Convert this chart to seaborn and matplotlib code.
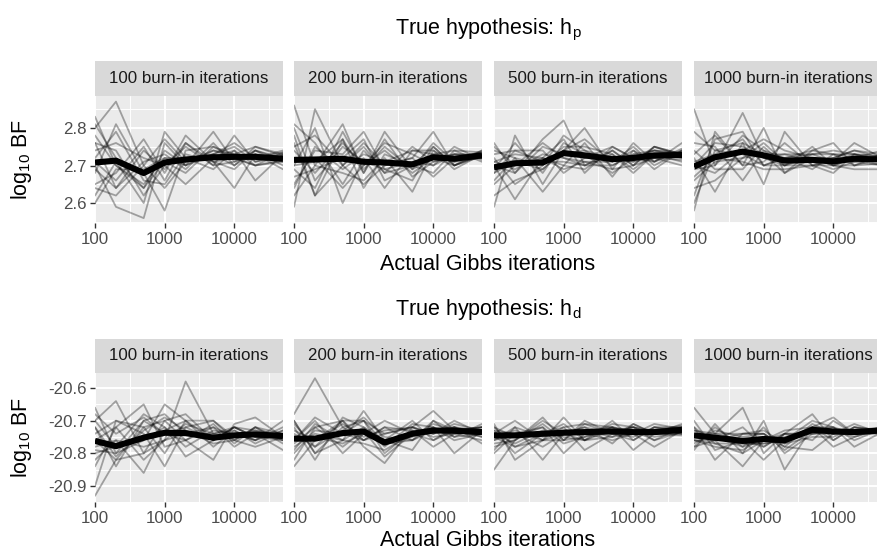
import matplotlib
matplotlib.use("Agg")
import matplotlib.pyplot as plt
import numpy as np
import pandas as pd
import seaborn as sns
from matplotlib.ticker import FixedLocator, NullFormatter

# ---------------------------------------------------------------- data
iterations = [100, 200, 500, 1000, 2000, 5000, 10000, 20000, 50000]
burnin = [100, 200, 500, 1000]

# replicate runs, true hypothesis h_p (one list per run, values at each iteration count)
hp_b100 = [
    [2.830, 2.700, 2.650, 2.720, 2.700, 2.740, 2.720, 2.730, 2.720],
    [2.800, 2.870, 2.700, 2.640, 2.710, 2.730, 2.700, 2.750, 2.730],
    [2.760, 2.640, 2.740, 2.690, 2.760, 2.700, 2.780, 2.710, 2.725],
    [2.620, 2.710, 2.600, 2.790, 2.720, 2.690, 2.740, 2.700, 2.715],
    [2.680, 2.810, 2.680, 2.580, 2.740, 2.750, 2.730, 2.720, 2.735],
    [2.700, 2.590, 2.560, 2.760, 2.700, 2.790, 2.710, 2.740, 2.700],
    [2.740, 2.760, 2.720, 2.700, 2.650, 2.720, 2.740, 2.660, 2.730],
    [2.650, 2.680, 2.770, 2.680, 2.780, 2.710, 2.640, 2.730, 2.710],
    [2.810, 2.720, 2.640, 2.740, 2.700, 2.730, 2.760, 2.720, 2.740],
    [2.690, 2.640, 2.710, 2.730, 2.690, 2.760, 2.700, 2.740, 2.720],
    [2.720, 2.790, 2.660, 2.650, 2.730, 2.710, 2.720, 2.700, 2.710],
    [2.640, 2.620, 2.700, 2.770, 2.710, 2.740, 2.730, 2.750, 2.725],
    [2.760, 2.740, 2.620, 2.700, 2.750, 2.700, 2.710, 2.730, 2.690],
    [2.600, 2.690, 2.690, 2.720, 2.720, 2.730, 2.750, 2.710, 2.730],
    [2.710, 2.660, 2.750, 2.660, 2.760, 2.710, 2.690, 2.740, 2.715],
    [2.780, 2.700, 2.640, 2.710, 2.680, 2.750, 2.720, 2.700, 2.735],
]
hp_b200 = [
    [2.860, 2.700, 2.810, 2.680, 2.790, 2.690, 2.720, 2.730, 2.730],
    [2.590, 2.850, 2.700, 2.760, 2.700, 2.720, 2.790, 2.700, 2.725],
    [2.780, 2.620, 2.770, 2.640, 2.730, 2.700, 2.680, 2.740, 2.735],
    [2.700, 2.800, 2.600, 2.720, 2.640, 2.740, 2.730, 2.720, 2.720],
    [2.650, 2.740, 2.730, 2.790, 2.690, 2.660, 2.750, 2.700, 2.740],
    [2.740, 2.680, 2.760, 2.700, 2.760, 2.730, 2.700, 2.750, 2.715],
    [2.620, 2.700, 2.680, 2.660, 2.720, 2.630, 2.740, 2.690, 2.730],
    [2.810, 2.760, 2.650, 2.740, 2.680, 2.750, 2.710, 2.730, 2.725],
    [2.690, 2.640, 2.790, 2.690, 2.750, 2.690, 2.760, 2.710, 2.720],
    [2.750, 2.780, 2.700, 2.650, 2.700, 2.720, 2.670, 2.720, 2.735],
    [2.670, 2.690, 2.720, 2.770, 2.660, 2.700, 2.730, 2.740, 2.710],
    [2.720, 2.720, 2.640, 2.700, 2.740, 2.680, 2.720, 2.700, 2.730],
    [2.800, 2.660, 2.750, 2.710, 2.690, 2.710, 2.700, 2.730, 2.720],
    [2.640, 2.750, 2.690, 2.730, 2.710, 2.740, 2.740, 2.710, 2.740],
    [2.700, 2.710, 2.770, 2.680, 2.770, 2.670, 2.710, 2.720, 2.725],
    [2.760, 2.620, 2.700, 2.750, 2.680, 2.700, 2.750, 2.700, 2.730],
]
hp_b500 = [
    [2.760, 2.680, 2.770, 2.820, 2.700, 2.740, 2.700, 2.750, 2.730],
    [2.590, 2.780, 2.650, 2.740, 2.800, 2.690, 2.760, 2.710, 2.760],
    [2.700, 2.610, 2.720, 2.770, 2.680, 2.750, 2.720, 2.740, 2.720],
    [2.740, 2.720, 2.630, 2.700, 2.760, 2.670, 2.740, 2.690, 2.740],
    [2.650, 2.700, 2.760, 2.720, 2.700, 2.730, 2.680, 2.730, 2.710],
    [2.720, 2.650, 2.700, 2.780, 2.740, 2.700, 2.730, 2.720, 2.735],
    [2.680, 2.740, 2.740, 2.680, 2.720, 2.720, 2.710, 2.750, 2.725],
    [2.620, 2.660, 2.690, 2.740, 2.770, 2.710, 2.750, 2.700, 2.740],
    [2.750, 2.700, 2.720, 2.700, 2.690, 2.740, 2.700, 2.720, 2.700],
    [2.690, 2.760, 2.680, 2.760, 2.730, 2.680, 2.720, 2.740, 2.730],
    [2.710, 2.690, 2.730, 2.720, 2.710, 2.710, 2.740, 2.710, 2.745],
    [2.660, 2.720, 2.700, 2.750, 2.750, 2.730, 2.690, 2.730, 2.720],
    [2.730, 2.740, 2.710, 2.710, 2.700, 2.700, 2.730, 2.740, 2.735],
    [2.700, 2.680, 2.750, 2.730, 2.740, 2.720, 2.710, 2.720, 2.715],
    [2.680, 2.710, 2.690, 2.740, 2.720, 2.750, 2.720, 2.710, 2.740],
    [2.710, 2.730, 2.720, 2.690, 2.710, 2.690, 2.700, 2.750, 2.730],
]
hp_b1000 = [
    [2.850, 2.700, 2.840, 2.720, 2.700, 2.730, 2.710, 2.760, 2.720],
    [2.580, 2.790, 2.700, 2.800, 2.680, 2.740, 2.760, 2.700, 2.730],
    [2.720, 2.630, 2.760, 2.650, 2.790, 2.700, 2.680, 2.730, 2.710],
    [2.760, 2.750, 2.660, 2.740, 2.720, 2.690, 2.730, 2.720, 2.740],
    [2.620, 2.770, 2.790, 2.700, 2.700, 2.750, 2.700, 2.700, 2.705],
    [2.700, 2.680, 2.740, 2.770, 2.740, 2.720, 2.720, 2.740, 2.720],
    [2.670, 2.720, 2.710, 2.690, 2.690, 2.700, 2.700, 2.690, 2.690],
    [2.790, 2.740, 2.760, 2.730, 2.730, 2.730, 2.740, 2.730, 2.725],
    [2.640, 2.660, 2.720, 2.760, 2.710, 2.710, 2.690, 2.710, 2.700],
    [2.730, 2.780, 2.700, 2.710, 2.760, 2.700, 2.720, 2.740, 2.730],
    [2.690, 2.700, 2.780, 2.740, 2.700, 2.720, 2.700, 2.720, 2.715],
    [2.600, 2.740, 2.730, 2.700, 2.720, 2.740, 2.730, 2.700, 2.720],
    [2.740, 2.690, 2.690, 2.750, 2.700, 2.700, 2.710, 2.730, 2.710],
    [2.700, 2.760, 2.750, 2.720, 2.730, 2.710, 2.720, 2.710, 2.730],
    [2.660, 2.710, 2.720, 2.730, 2.680, 2.720, 2.700, 2.720, 2.700],
    [2.710, 2.730, 2.770, 2.700, 2.720, 2.730, 2.730, 2.730, 2.720],
]

# replicate runs, true hypothesis h_d
hd_b100 = [
    [-20.930, -20.820, -20.720, -20.700, -20.680, -20.760, -20.720, -20.750, -20.740],
    [-20.660, -20.800, -20.760, -20.650, -20.700, -20.700, -20.760, -20.720, -20.760],
    [-20.700, -20.640, -20.800, -20.760, -20.580, -20.740, -20.730, -20.770, -20.730],
    [-20.840, -20.720, -20.650, -20.780, -20.760, -20.820, -20.710, -20.690, -20.750],
    [-20.720, -20.840, -20.700, -20.680, -20.740, -20.720, -20.780, -20.740, -20.790],
    [-20.780, -20.760, -20.860, -20.730, -20.700, -20.760, -20.740, -20.760, -20.720],
    [-20.900, -20.700, -20.740, -20.840, -20.720, -20.700, -20.750, -20.730, -20.740],
    [-20.700, -20.780, -20.680, -20.720, -20.810, -20.760, -20.720, -20.750, -20.760],
    [-20.760, -20.820, -20.800, -20.700, -20.760, -20.710, -20.770, -20.720, -20.740],
    [-20.740, -20.700, -20.720, -20.800, -20.700, -20.780, -20.730, -20.760, -20.700],
    [-20.820, -20.760, -20.780, -20.760, -20.740, -20.740, -20.760, -20.780, -20.750],
    [-20.680, -20.740, -20.690, -20.740, -20.720, -20.760, -20.720, -20.730, -20.760],
    [-20.800, -20.780, -20.760, -20.720, -20.780, -20.730, -20.740, -20.760, -20.730],
    [-20.720, -20.810, -20.730, -20.690, -20.730, -20.770, -20.760, -20.720, -20.770],
    [-20.760, -20.720, -20.820, -20.760, -20.710, -20.740, -20.720, -20.750, -20.740],
    [-20.790, -20.800, -20.700, -20.740, -20.760, -20.720, -20.750, -20.740, -20.750],
]
hd_b200 = [
    [-20.680, -20.570, -20.720, -20.700, -20.740, -20.720, -20.670, -20.730, -20.720],
    [-20.840, -20.760, -20.700, -20.780, -20.830, -20.720, -20.740, -20.700, -20.740],
    [-20.700, -20.800, -20.760, -20.670, -20.760, -20.790, -20.700, -20.750, -20.710],
    [-20.760, -20.700, -20.800, -20.740, -20.700, -20.740, -20.760, -20.720, -20.770],
    [-20.720, -20.820, -20.690, -20.720, -20.780, -20.710, -20.720, -20.800, -20.730],
    [-20.800, -20.730, -20.740, -20.760, -20.720, -20.760, -20.730, -20.720, -20.740],
    [-20.740, -20.780, -20.700, -20.700, -20.800, -20.730, -20.780, -20.740, -20.720],
    [-20.780, -20.740, -20.760, -20.720, -20.760, -20.750, -20.710, -20.730, -20.750],
    [-20.700, -20.800, -20.720, -20.760, -20.740, -20.720, -20.740, -20.710, -20.730],
    [-20.820, -20.720, -20.780, -20.730, -20.810, -20.740, -20.720, -20.750, -20.740],
    [-20.760, -20.690, -20.740, -20.700, -20.770, -20.760, -20.700, -20.730, -20.720],
    [-20.730, -20.760, -20.710, -20.750, -20.730, -20.720, -20.750, -20.740, -20.760],
    [-20.790, -20.710, -20.760, -20.770, -20.790, -20.740, -20.730, -20.720, -20.730],
    [-20.710, -20.780, -20.730, -20.690, -20.750, -20.760, -20.720, -20.760, -20.740],
    [-20.750, -20.750, -20.770, -20.740, -20.760, -20.700, -20.760, -20.730, -20.720],
    [-20.770, -20.720, -20.700, -20.760, -20.720, -20.730, -20.740, -20.720, -20.750],
]
hd_b500 = [
    [-20.850, -20.760, -20.690, -20.760, -20.700, -20.740, -20.720, -20.760, -20.720],
    [-20.710, -20.820, -20.760, -20.690, -20.760, -20.700, -20.760, -20.720, -20.740],
    [-20.760, -20.720, -20.820, -20.740, -20.720, -20.770, -20.710, -20.740, -20.710],
    [-20.800, -20.740, -20.720, -20.800, -20.740, -20.720, -20.740, -20.780, -20.730],
    [-20.720, -20.780, -20.740, -20.720, -20.790, -20.740, -20.720, -20.730, -20.720],
    [-20.740, -20.700, -20.760, -20.760, -20.710, -20.720, -20.790, -20.740, -20.740],
    [-20.780, -20.760, -20.700, -20.740, -20.740, -20.760, -20.740, -20.710, -20.725],
    [-20.730, -20.800, -20.740, -20.710, -20.760, -20.730, -20.730, -20.750, -20.735],
    [-20.760, -20.740, -20.780, -20.740, -20.720, -20.740, -20.760, -20.720, -20.720],
    [-20.720, -20.750, -20.720, -20.770, -20.750, -20.710, -20.720, -20.740, -20.745],
    [-20.790, -20.720, -20.750, -20.730, -20.730, -20.750, -20.740, -20.730, -20.715],
    [-20.740, -20.770, -20.730, -20.750, -20.760, -20.720, -20.730, -20.760, -20.735],
    [-20.750, -20.730, -20.760, -20.720, -20.710, -20.740, -20.750, -20.720, -20.730],
    [-20.770, -20.760, -20.710, -20.760, -20.750, -20.730, -20.720, -20.740, -20.725],
    [-20.730, -20.740, -20.740, -20.730, -20.730, -20.720, -20.740, -20.730, -20.740],
    [-20.750, -20.780, -20.760, -20.740, -20.760, -20.750, -20.710, -20.740, -20.730],
]
hd_b1000 = [
    [-20.660, -20.740, -20.660, -20.800, -20.740, -20.680, -20.760, -20.720, -20.730],
    [-20.790, -20.710, -20.800, -20.700, -20.850, -20.720, -20.690, -20.740, -20.720],
    [-20.720, -20.820, -20.740, -20.740, -20.780, -20.790, -20.740, -20.710, -20.740],
    [-20.760, -20.760, -20.840, -20.760, -20.730, -20.720, -20.780, -20.750, -20.725],
    [-20.700, -20.790, -20.760, -20.820, -20.760, -20.700, -20.720, -20.780, -20.735],
    [-20.780, -20.720, -20.780, -20.720, -20.800, -20.740, -20.730, -20.730, -20.720],
    [-20.740, -20.760, -20.720, -20.780, -20.740, -20.760, -20.700, -20.740, -20.740],
    [-20.760, -20.780, -20.790, -20.750, -20.770, -20.720, -20.760, -20.720, -20.730],
    [-20.730, -20.740, -20.760, -20.780, -20.740, -20.740, -20.730, -20.750, -20.720],
    [-20.770, -20.730, -20.750, -20.740, -20.780, -20.710, -20.740, -20.730, -20.735],
    [-20.720, -20.770, -20.800, -20.760, -20.750, -20.730, -20.720, -20.740, -20.730],
    [-20.750, -20.740, -20.740, -20.730, -20.770, -20.750, -20.750, -20.720, -20.740],
    [-20.760, -20.770, -20.770, -20.770, -20.760, -20.720, -20.720, -20.760, -20.725],
    [-20.730, -20.750, -20.780, -20.760, -20.740, -20.740, -20.740, -20.730, -20.735],
    [-20.780, -20.760, -20.740, -20.740, -20.790, -20.730, -20.730, -20.740, -20.720],
    [-20.740, -20.750, -20.770, -20.770, -20.760, -20.720, -20.740, -20.730, -20.730],
]

# average over runs at each iteration count
hp_avg = {
    100: [2.708, 2.713, 2.680, 2.708, 2.716, 2.722, 2.723, 2.723, 2.718],
    200: [2.715, 2.716, 2.718, 2.710, 2.708, 2.703, 2.722, 2.718, 2.727],
    500: [2.695, 2.706, 2.708, 2.733, 2.727, 2.717, 2.720, 2.727, 2.728],
    1000: [2.697, 2.722, 2.737, 2.727, 2.713, 2.715, 2.711, 2.718, 2.716],
}
hd_avg = {
    100: [-20.762, -20.778, -20.752, -20.737, -20.738, -20.752, -20.745, -20.742, -20.747],
    200: [-20.755, -20.755, -20.738, -20.733, -20.767, -20.740, -20.730, -20.731, -20.735],
    500: [-20.745, -20.745, -20.740, -20.737, -20.735, -20.733, -20.735, -20.735, -20.728],
    1000: [-20.745, -20.752, -20.762, -20.756, -20.760, -20.728, -20.733, -20.735, -20.730],
}

runs = {
    "hp": {100: hp_b100, 200: hp_b200, 500: hp_b500, 1000: hp_b1000},
    "hd": {100: hd_b100, 200: hd_b200, 500: hd_b500, 1000: hd_b1000},
}
avgs = {"hp": hp_avg, "hd": hd_avg}

rows = []
for hyp, by_burn in runs.items():
    for b, reps in by_burn.items():
        for r, vals in enumerate(reps):
            for it, v in zip(iterations, vals):
                rows.append((hyp, b, r, it, v))
runs_df = pd.DataFrame(rows, columns=["hyp", "burnin", "run", "iterations", "log10BF"])

rows = []
for hyp, by_burn in avgs.items():
    for b, vals in by_burn.items():
        for it, v in zip(iterations, vals):
            rows.append((hyp, b, it, v))
avg_df = pd.DataFrame(rows, columns=["hyp", "burnin", "iterations", "log10BF"])

# ---------------------------------------------------------------- style
sns.set_theme(style="darkgrid")
plt.rcParams["font.family"] = ["Liberation Sans", "DejaVu Sans"]
plt.rcParams["mathtext.fontset"] = "custom"
plt.rcParams["mathtext.rm"] = "Liberation Sans"
plt.rcParams["mathtext.it"] = "Liberation Sans"

W, H = 877, 552
fig = plt.figure(figsize=(W / 100, H / 100), dpi=100)
fig.patch.set_facecolor("white")

panel_left = [95, 294, 494, 694]
panel_w = 188
row_geom = {
    # hypothesis: (strip top, panel top, panel bottom, ylim, yticks, title, title y, xlabel y)
    "hp": (61, 96, 223, (2.547, 2.885), [2.6, 2.7, 2.8], r"True hypothesis: $\mathregular{h_p}$", 30, 265),
    "hd": (339, 373, 502, (-20.949, -20.554), [-20.9, -20.8, -20.7, -20.6], r"True hypothesis: $\mathregular{h_d}$", 309, 541),
}

TICK_FS = 12.2
GREY30 = "#4D4D4D"

def fx(px):
    return px / W

def fy(py):
    return 1 - py / H

for hyp, (s_top, p_top, p_bot, ylim, yticks, title, title_y, xlab_y) in row_geom.items():
    for j, b in enumerate(burnin):
        x0 = panel_left[j]
        ax = fig.add_axes([fx(x0), fy(p_bot), panel_w / W, (p_bot - p_top) / H])
        ax.set_facecolor("#EBEBEB")
        ax.set_axisbelow(True)
        for sp in ax.spines.values():
            sp.set_visible(False)

        sub = runs_df[(runs_df.hyp == hyp) & (runs_df.burnin == b)]
        sns.lineplot(data=sub, x="iterations", y="log10BF", units="run", estimator=None,
                     color="black", alpha=0.33, linewidth=1.3, ax=ax, legend=False)
        mean_sub = avg_df[(avg_df.hyp == hyp) & (avg_df.burnin == b)]
        sns.lineplot(data=mean_sub, x="iterations", y="log10BF", color="black",
                     linewidth=4.4, ax=ax, legend=False, solid_capstyle="butt")

        ax.set_xscale("log")
        ax.set_xlim(100, 50000)
        ax.set_ylim(*ylim)
        ax.xaxis.set_major_locator(FixedLocator([100, 1000, 10000]))
        ax.xaxis.set_minor_locator(FixedLocator([10 ** 2.5, 10 ** 3.5, 10 ** 4.5]))
        ax.xaxis.set_minor_formatter(NullFormatter())
        ax.set_xticklabels(["100", "1000", "10000"])
        ax.yaxis.set_major_locator(FixedLocator(yticks))
        ystep = yticks[1] - yticks[0]
        yminor = [yticks[0] - ystep / 2] + [t + ystep / 2 for t in yticks]
        ax.yaxis.set_minor_locator(FixedLocator(yminor))
        ax.yaxis.set_minor_formatter(NullFormatter())
        ax.grid(which="major", color="white", linewidth=1.4)
        ax.grid(which="minor", color="white", linewidth=0.7)
        ax.tick_params(which="minor", length=0)
        ax.tick_params(axis="x", which="major", length=3.5, width=1.0, color="#333333",
                       labelsize=TICK_FS, labelcolor=GREY30, pad=3, bottom=True)
        if j == 0:
            ax.set_yticklabels([f"{t:g}" for t in yticks])
            ax.tick_params(axis="y", which="major", length=3.5, width=1.0, color="#333333",
                           labelsize=TICK_FS, labelcolor=GREY30, pad=2.5, left=True)
        else:
            ax.tick_params(axis="y", which="major", length=0, labelleft=False)
        ax.set_xlabel("")
        ax.set_ylabel("")

        # facet strip
        sax = fig.add_axes([fx(x0), fy(p_top), panel_w / W, (p_top - s_top) / H])
        sax.set_facecolor("#D9D9D9")
        sax.set_xticks([])
        sax.set_yticks([])
        sax.grid(False)
        for sp in sax.spines.values():
            sp.set_visible(False)
        sax.text(0.5, 0.5, f"{b} burn-in iterations", ha="center", va="center",
                 fontsize=TICK_FS, color="#1A1A1A", transform=sax.transAxes)

    fig.text(fx(488), fy(title_y), title, ha="center", va="center", fontsize=15.5, color="black")
    fig.text(fx(488), fy(xlab_y), "Actual Gibbs iterations", ha="center", va="center",
             fontsize=15.5, color="black")
    fig.text(fx(22), fy((p_top + p_bot) / 2), r"$\mathregular{log_{10}}$ BF", rotation=90,
             ha="center", va="center", fontsize=15.5, color="black")

fig.savefig("out.png", dpi=100, facecolor="white")
